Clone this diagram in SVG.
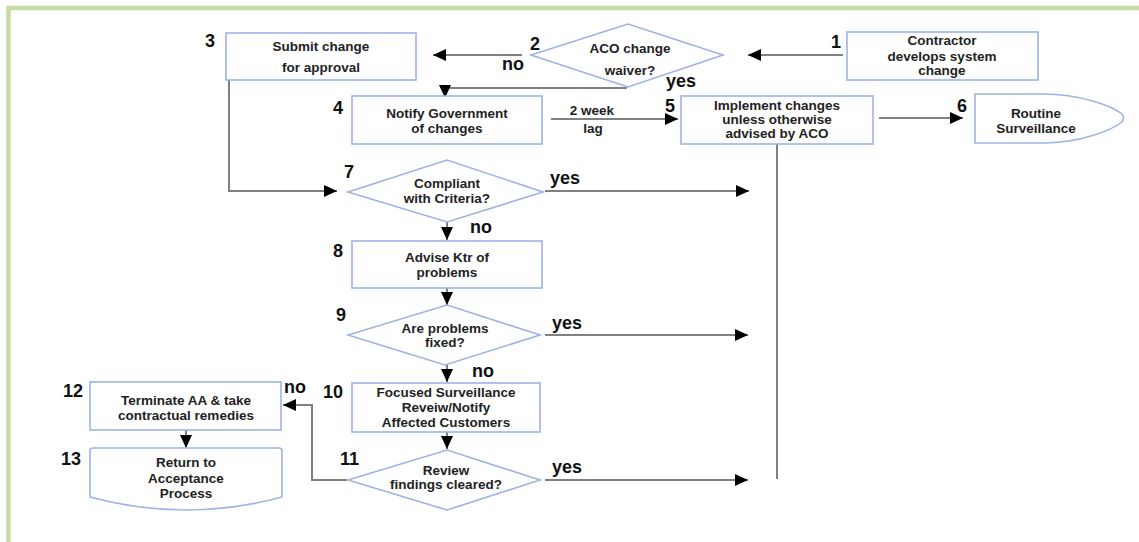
<svg xmlns="http://www.w3.org/2000/svg" width="1139" height="542" viewBox="0 0 1139 542">
<defs>
<style>
.box{fill:#fff;stroke:#9fb2e6;stroke-width:1.6}
.t{font-family:"Liberation Sans",Arial,sans-serif;font-weight:bold;font-size:13.5px;fill:#222;text-anchor:middle}
.n{font-family:"Liberation Sans",Arial,sans-serif;font-weight:bold;font-size:18px;fill:#111}
.c{fill:none;stroke:#808080;stroke-width:2}
</style>
<marker id="ah" markerUnits="userSpaceOnUse" markerWidth="13" markerHeight="12" refX="13" refY="6" orient="auto" viewBox="0 0 13 12">
<path d="M0,0 L13,6 L0,12 z" fill="#000"/>
</marker>
</defs>
<rect width="1139" height="542" fill="#fff"/>
<path d="M8.5,542 V8 H1139" fill="none" stroke="#c8dba2" stroke-width="4.5"/>

<g id="connectors">
<path class="c" d="M843,55 H748" marker-end="url(#ah)"/>
<path class="c" d="M522,55 H433" marker-end="url(#ah)"/>
<path class="c" d="M627,88 H445 V98" marker-end="url(#ah)"/>
<path class="c" d="M551,119 H678" marker-end="url(#ah)"/>
<path class="c" d="M879,118 H963" marker-end="url(#ah)"/>
<path class="c" d="M777,144 V479"/>
<path class="c" d="M229,80 V191 H337" marker-end="url(#ah)"/>
<path class="c" d="M545,191 H749" marker-end="url(#ah)"/>
<path class="c" d="M447,222 V240" marker-end="url(#ah)"/>
<path class="c" d="M447,288 V305" marker-end="url(#ah)"/>
<path class="c" d="M545,335 H748" marker-end="url(#ah)"/>
<path class="c" d="M447,365 V382" marker-end="url(#ah)"/>
<path class="c" d="M447,432 V449" marker-end="url(#ah)"/>
<path class="c" d="M545,480 H748" marker-end="url(#ah)"/>
<path class="c" d="M347,480 H312 V405 H283" marker-end="url(#ah)"/>
<path class="c" d="M186,430 V448" marker-end="url(#ah)"/>
<text class="n" x="502" y="70">no</text>
<text class="n" x="666" y="87">yes</text>
<text class="n" x="550" y="184">yes</text>
<text class="n" x="470" y="233">no</text>
<text class="n" x="552" y="329">yes</text>
<text class="n" x="472" y="377">no</text>
<text class="n" x="552" y="473">yes</text>
<text class="n" x="284" y="393">no</text>
<text class="t" x="592" y="115">2 week</text>
<text class="t" x="593" y="133">lag</text>
</g>

<g id="node1">
<rect class="box" x="847" y="32" width="191" height="48"/>
<text class="t" x="942" y="45">Contractor</text>
<text class="t" x="942" y="61">develops system</text>
<text class="t" x="942" y="75">change</text>
<text class="n" x="831" y="48">1</text>
</g>

<g id="node2">
<polygon class="box" points="531,55 628,24 723,55 628,87"/>
<text class="t" x="630" y="53">ACO change</text>
<text class="t" x="630" y="75">waiver?</text>
<text class="n" x="530" y="50">2</text>
</g>

<g id="node3">
<rect class="box" x="226" y="33" width="190" height="47"/>
<text class="t" x="321" y="51">Submit change</text>
<text class="t" x="321" y="72">for approval</text>
<text class="n" x="205" y="47">3</text>
</g>

<g id="node4">
<rect class="box" x="352" y="96" width="190" height="48"/>
<text class="t" x="447" y="118">Notify Government</text>
<text class="t" x="447" y="133">of changes</text>
<text class="n" x="333" y="114">4</text>
</g>

<g id="node5">
<rect class="box" x="681" y="96" width="192" height="48"/>
<text class="t" x="777" y="110">Implement changes</text>
<text class="t" x="777" y="124">unless otherwise</text>
<text class="t" x="777" y="138">advised by ACO</text>
<text class="n" x="665" y="112">5</text>
</g>

<g id="node6">
<path class="box" d="M975,94 H1043 C1080,94 1112,106 1122,114 Q1125,118 1122,122 C1112,130 1080,143 1043,143 H975 Z"/>
<text class="t" x="1036" y="118">Routine</text>
<text class="t" x="1036" y="133">Surveillance</text>
<text class="n" x="957" y="112">6</text>
</g>

<g id="node7">
<polygon class="box" points="348,192 447,160 543,192 447,222"/>
<text class="t" x="447" y="188">Compliant</text>
<text class="t" x="447" y="203">with Criteria?</text>
<text class="n" x="344" y="178">7</text>
</g>

<g id="node8">
<rect class="box" x="352" y="241" width="190" height="47"/>
<text class="t" x="447" y="262">Advise Ktr of</text>
<text class="t" x="447" y="277">problems</text>
<text class="n" x="333" y="257">8</text>
</g>

<g id="node9">
<polygon class="box" points="348,335 447,305 540,335 445,365"/>
<text class="t" x="445" y="333">Are problems</text>
<text class="t" x="445" y="347">fixed?</text>
<text class="n" x="336" y="321">9</text>
</g>

<g id="node10">
<rect class="box" x="352" y="383" width="188" height="49"/>
<text class="t" x="446" y="397">Focused Surveillance</text>
<text class="t" x="446" y="412">Reveiw/Notify</text>
<text class="t" x="446" y="427">Affected Customers</text>
<text class="n" x="323" y="398">10</text>
</g>

<g id="node11">
<polygon class="box" points="348,480 447,450 540,480 447,510"/>
<text class="t" x="446" y="475">Review</text>
<text class="t" x="446" y="489">findings cleared?</text>
<text class="n" x="340" y="465">11</text>
</g>

<g id="node12">
<rect class="box" x="90" y="382" width="191" height="48"/>
<text class="t" x="186" y="405">Terminate AA &amp; take</text>
<text class="t" x="186" y="420">contractual remedies</text>
<text class="n" x="63" y="397">12</text>
</g>

<g id="node13">
<path class="box" d="M90,451 Q90,448 93,448 H279 Q282,448 282,451 V497 Q186,523 90,497 Z"/>
<text class="t" x="186" y="467">Return to</text>
<text class="t" x="186" y="483">Acceptance</text>
<text class="t" x="186" y="498">Process</text>
<text class="n" x="61" y="465">13</text>
</g>
</svg>
